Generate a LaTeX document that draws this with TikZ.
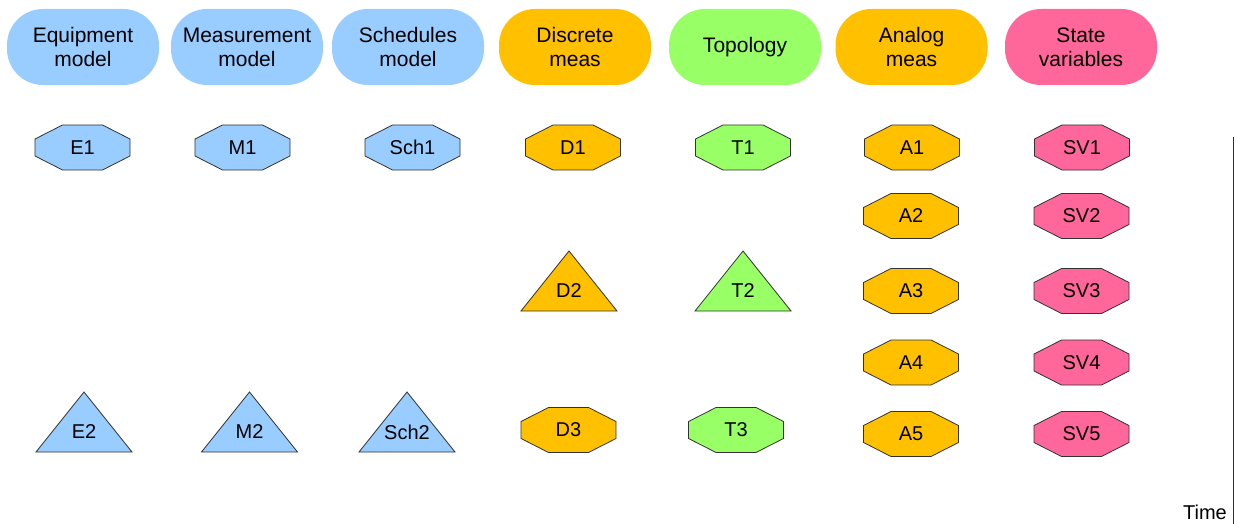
\documentclass[tikz,border=0pt]{standalone}
\usepackage{fontspec}
\setmainfont{Liberation Sans}
\definecolor{modelblue}{HTML}{99CCFF}
\definecolor{measorange}{HTML}{FFC000}
\definecolor{topogreen}{HTML}{99FF66}
\definecolor{statepink}{HTML}{FF6699}
\definecolor{edge}{HTML}{333333}
% octagon marker: name, centre x, centre y, fill, label
\newcommand\octmark[5]{%
  \draw[markline, fill=#4]
    (#2-47.5,#3-8.5) -- (#2-20,#3-22.5) -- (#2+20,#3-22.5) -- (#2+47.5,#3-8.5) --
    (#2+47.5,#3+8.5) -- (#2+20,#3+22.5) -- (#2-20,#3+22.5) -- (#2-47.5,#3+8.5) -- cycle;
  \node[marktext] (#1) at (#2,#3) {#5};}
% triangle marker: name, centre x, apex y, fill, label
\newcommand\trimark[5]{%
  \draw[markline, fill=#4]
    (#2,#3) -- (#2+48,#3+60) -- (#2-48,#3+60) -- cycle;
  \node[marktext] (#1) at (#2,#3+40) {#5};}
\begin{document}
\begin{tikzpicture}[x=1pt,y=-1pt,
  font=\fontsize{20}{24}\selectfont,
  header/.style={fill=#1, rounded corners=36pt, minimum width=152pt,
    minimum height=76pt, align=center, inner sep=0pt,
    font=\fontsize{21}{24}\selectfont},
  markline/.style={draw=edge, line width=0.8pt, line join=miter},
  marktext/.style={inner sep=0pt, font=\fontsize{20}{24}\selectfont}]
\useasboundingbox (0,0) rectangle (1236,524);

% column headers
\node[header=modelblue]  (hE)  at (83,47)    {Equipment\\model};
\node[header=modelblue]  (hM)  at (247,47)   {Measurement\\model};
\node[header=modelblue]  (hS)  at (408,47)   {Schedules\\model};
\node[header=measorange] (hD)  at (575,47)   {Discrete\\meas};
\node[header=topogreen]  (hT)  at (745,47)   {Topology};
\node[header=measorange] (hA)  at (911.5,47) {Analog\\meas};
\node[header=statepink]  (hSV) at (1081,47)  {State\\variables};

% first row
\octmark{E1}{82.5}{147.5}{modelblue}{E1}
\octmark{M1}{242.5}{147.5}{modelblue}{M1}
\octmark{Sch1}{412.5}{147.5}{modelblue}{Sch1}
\octmark{D1}{573}{147.5}{measorange}{D1}
\octmark{T1}{743}{147.5}{topogreen}{T1}
\octmark{A1}{912}{147.5}{measorange}{A1}
\octmark{SV1}{1082}{147.5}{statepink}{SV1}

% analog measurements and state variables
\octmark{A2}{911}{216}{measorange}{A2}
\octmark{SV2}{1081.5}{216}{statepink}{SV2}
\octmark{A3}{911}{291}{measorange}{A3}
\octmark{SV3}{1081.5}{291}{statepink}{SV3}
\octmark{A4}{911}{362.5}{measorange}{A4}
\octmark{SV4}{1081.5}{362.5}{statepink}{SV4}
\octmark{A5}{911}{434}{measorange}{A5}
\octmark{SV5}{1081.5}{434}{statepink}{SV5}

% discrete measurements and topology
\trimark{D2}{569}{251}{measorange}{D2}
\trimark{T2}{743}{251}{topogreen}{T2}
\octmark{D3}{568.5}{430}{measorange}{D3}
\octmark{T3}{736}{430}{topogreen}{T3}

% model updates
\trimark{E2}{84}{392}{modelblue}{E2}
\trimark{M2}{249.5}{392}{modelblue}{M2}
\trimark{Sch2}{407}{392}{modelblue}{Sch2}

% time axis
\coordinate (ttop) at (1233,137);
\coordinate (tbot) at (1233,524);
\draw[draw=edge, line width=1pt] (ttop) -- (tbot);
\node[anchor=base east, inner sep=0pt] (time) at (1227,519) {Time};
\end{tikzpicture}
\end{document}
